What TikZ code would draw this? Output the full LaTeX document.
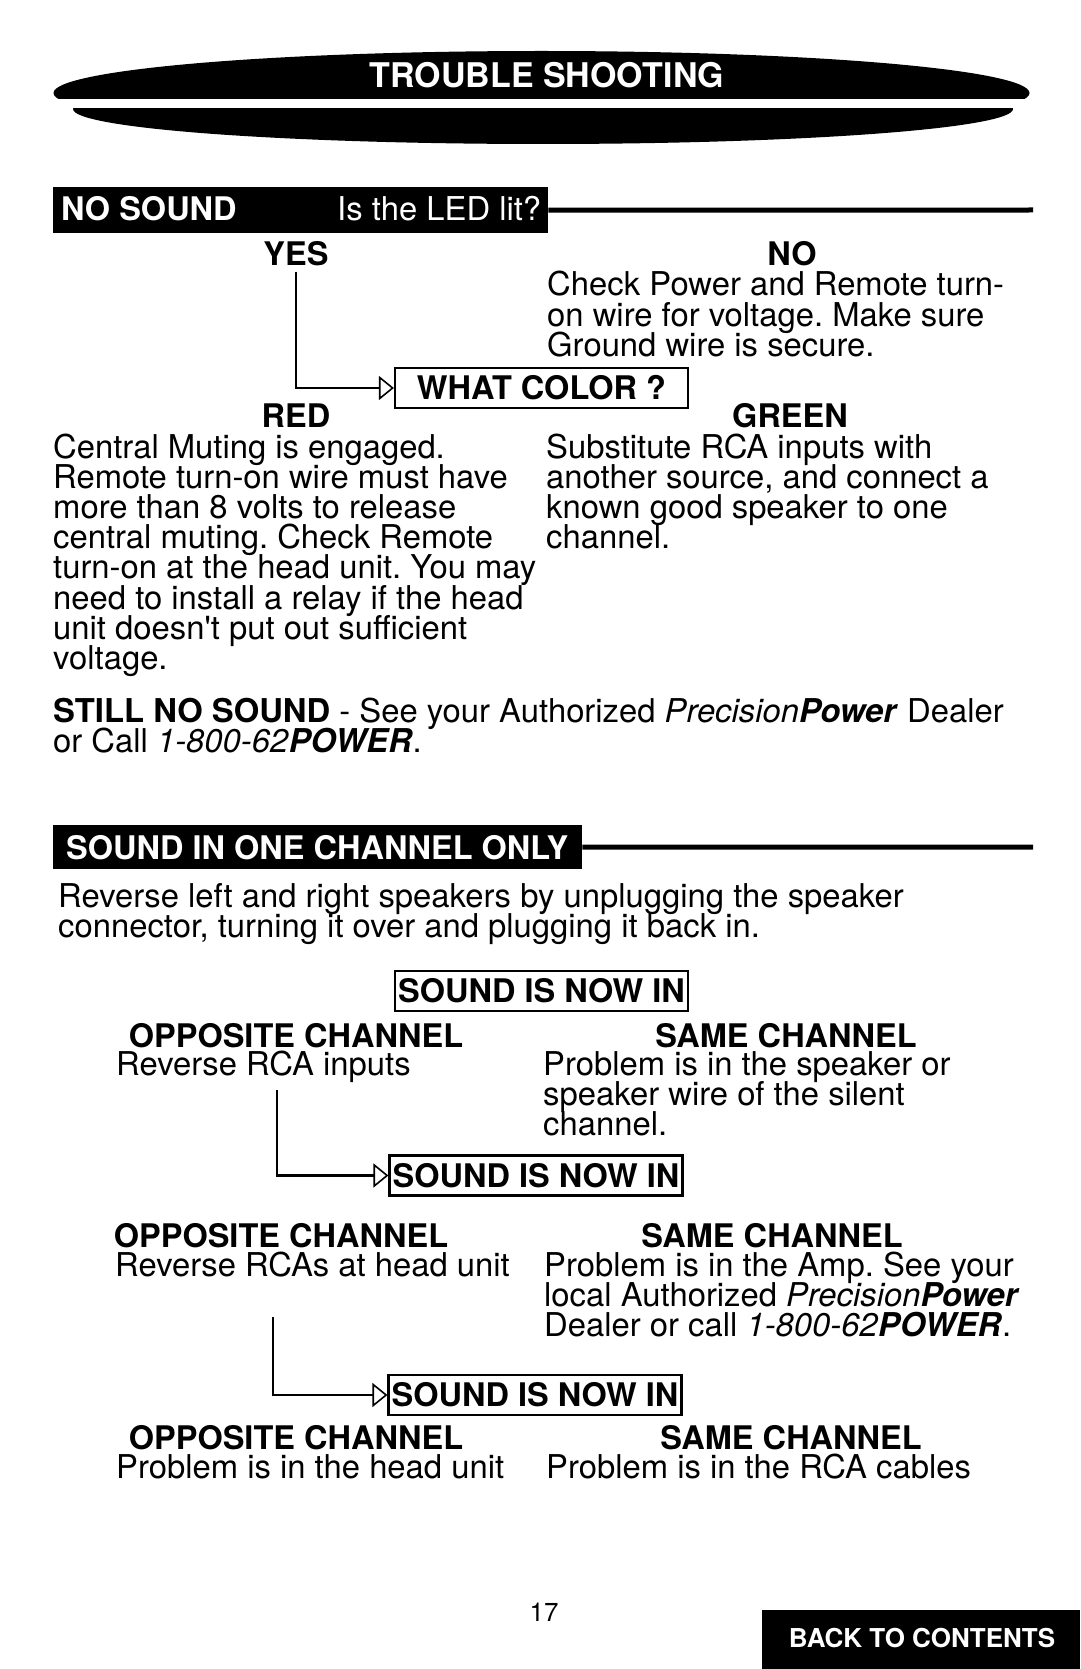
\documentclass[tikz,border=0pt]{standalone}
\usepackage{fontspec}
\setmainfont{TeX Gyre Heros}
\usetikzlibrary{arrows.meta}
\newcommand\bodyfont{\fontsize{32.8}{30.2}\selectfont}
\newcommand\headfont{\fontsize{32.5}{30.2}\selectfont\bfseries}
\newcommand\para[2]{\parbox[t]{#1}{\lineskiplimit=-100pt\lineskip=0pt\raggedright #2}}
\newcommand\ppower{\textit{Precision}\textbf{\textit{Power}}}
\newcommand\phonenum{\textit{1-800-62}\textbf{\textit{POWER}}}
\frenchspacing
\begin{document}
\frenchspacing
\begin{tikzpicture}[x=1pt,y=-1pt,
  txt/.style={inner sep=0pt, anchor=base west, font=\bodyfont},
  head/.style={inner sep=0pt, anchor=base, font=\headfont},
  qbox/.style={draw, line width=2.2pt, inner sep=0pt, minimum width=293pt, minimum height=40pt, font=\headfont},
  conn/.style={line width=2.2pt, -{Triangle[open, length=15pt, width=24pt, line width=1.6pt]}},
  bar/.style={fill=black, inner sep=0pt, anchor=north west},
  rulebar/.style={line width=5pt}]
\useasboundingbox (0,0) rectangle (1080,1669);
\clip (0,0) rectangle (1080,1669);

% header lenses
\begin{scope}
  \clip (0,0) rectangle (1080,98.5);
  \fill (541.5,93) ellipse [x radius=488, y radius=42];
\end{scope}
\begin{scope}
  \clip (0,109) rectangle (1080,200);
  \fill (543,109) ellipse [x radius=470, y radius=35];
\end{scope}
\node[inner sep=0pt, anchor=base, text=white, font=\fontsize{34}{34}\selectfont\bfseries] (title) at (547,88) {TROUBLE SHOOTING};

% NO SOUND bar
\node[bar, minimum width=495pt, minimum height=46pt] (nsbar) at (53,187) {};
\coordinate (nsend) at (1033,210);
\draw[rulebar] (nsbar.east) -- (nsend);
\node[txt, font=\headfont, text=white] (nstitle) at (61,221) {NO SOUND};
\node[txt, text=white] (led) at (337,221) {Is the LED lit?};

\node[head] (yes) at (296,266) {YES};
\node[head] (no) at (792,266) {NO};
\node[txt] (noinfo) at (547,296) {\para{520pt}{Check Power and Remote turn-\\on wire for voltage. Make sure\\Ground wire is secure.}};

\node[qbox] (what) at (541.5,388) {WHAT COLOR ?};
\draw[conn] ([yshift=-5pt]yes.south) |- (what.west);

\node[head] (red) at (296,427) {RED};
\node[head] (green) at (790,427) {GREEN};
\node[txt] (redinfo) at (53,458) {\para{520pt}{Central Muting is engaged.\\Remote turn-on wire must have\\more than 8 volts to release\\central muting. Check Remote\\turn-on at the head unit. You may\\need to install a relay if the head\\unit doesn\textquotesingle t put out sufficient\\voltage.}};
\node[txt] (greeninfo) at (546,458) {\para{520pt}{Substitute RCA inputs with\\another source, and connect a\\known good speaker to one\\channel.}};

\node[txt] (still) at (53,722) {\para{1000pt}{\textbf{STILL NO SOUND} - See your Authorized \ppower{} Dealer\\or Call \phonenum.}};

% SOUND IN ONE CHANNEL ONLY bar
\node[bar, minimum width=529pt, minimum height=44pt] (scbar) at (53,825) {};
\coordinate (scend) at (1033,847);
\draw[rulebar] (scbar.east) -- (scend);
\node[txt, font=\headfont, text=white] (sctitle) at (66,859) {SOUND IN ONE CHANNEL ONLY};

\node[txt] (rev) at (58,907) {\para{1000pt}{Reverse left and right speakers by unplugging the speaker\\connector, turning it over and plugging it back in.}};

\node[qbox] (box1) at (541.5,991) {SOUND IS NOW IN};
\node[head] (opp1) at (296,1047) {OPPOSITE CHANNEL};
\node[head] (same1) at (786,1047) {SAME CHANNEL};
\node[txt] (opp1t) at (116,1075) {Reverse RCA inputs};
\node[txt] (same1t) at (543,1075) {\para{520pt}{Problem is in the speaker or\\speaker wire of the silent\\channel.}};

\coordinate (c2) at (277,1090);
\node[qbox] (box2) at (536,1175.5) {SOUND IS NOW IN};
\draw[conn] (c2) |- (box2.west);

\node[head] (opp2) at (281,1247) {OPPOSITE CHANNEL};
\node[head] (same2) at (772,1247) {SAME CHANNEL};
\node[txt] (opp2t) at (115,1276) {Reverse RCAs at head unit};
\node[txt] (same2t) at (544,1276) {\para{520pt}{Problem is in the Amp. See your\\local Authorized \ppower\\Dealer or call \phonenum.}};

\coordinate (c3) at (273,1317);
\node[qbox] (box3) at (535,1395) {SOUND IS NOW IN};
\draw[conn] (c3) |- (box3.west);

\node[head] (opp3) at (296,1449) {OPPOSITE CHANNEL};
\node[head] (same3) at (791,1449) {SAME CHANNEL};
\node[txt] (opp3t) at (116,1478) {Problem is in the head unit};
\node[txt] (same3t) at (546,1478) {Problem is in the RCA cables};

\node[inner sep=0pt, anchor=base, font=\fontsize{26}{26}\selectfont] (pg) at (544,1621) {17};
\node[bar, minimum width=318pt, minimum height=59pt] (backbar) at (762,1610) {};
\node[inner sep=0pt, anchor=base, text=white, font=\fontsize{26}{26}\selectfont\bfseries] (back) at (922,1647) {BACK TO CONTENTS};
\end{tikzpicture}
\end{document}
